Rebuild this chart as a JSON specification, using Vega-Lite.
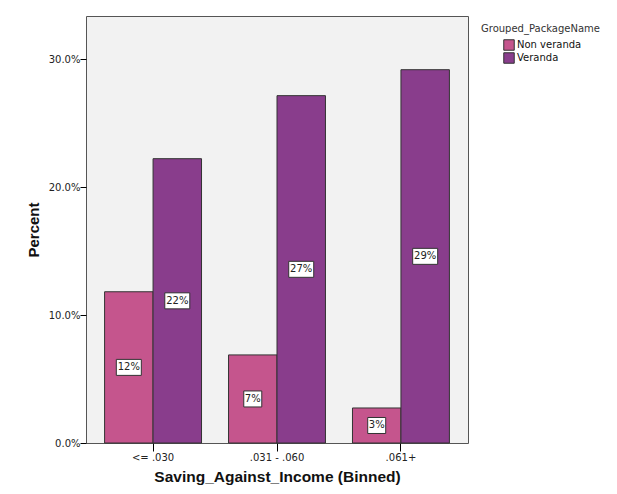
{
  "$schema": "https://vega.github.io/schema/vega-lite/v6.json",
  "width": 382,
  "height": 427,
  "autosize": "none",
  "padding": {"left": 86, "top": 16, "right": 149, "bottom": 51},
  "background": "white",
  "data": {
    "values": [
      {"bin": "<= .030", "group": "Non veranda", "pct": 11.83},
      {"bin": "<= .030", "group": "Veranda", "pct": 22.24},
      {"bin": ".031 - .060", "group": "Non veranda", "pct": 6.89},
      {"bin": ".031 - .060", "group": "Veranda", "pct": 27.17},
      {"bin": ".061+", "group": "Non veranda", "pct": 2.74},
      {"bin": ".061+", "group": "Veranda", "pct": 29.2}
    ]
  },
  "transform": [
    {"calculate": "datum.pct / 2", "as": "mid"},
    {"calculate": "format(datum.pct, '.0f') + '%'", "as": "label"}
  ],
  "encoding": {
    "x": {
      "field": "bin",
      "type": "nominal",
      "sort": ["<= .030", ".031 - .060", ".061+"],
      "scale": {"paddingInner": 0.218, "paddingOuter": 0.15},
      "title": "Saving_Against_Income (Binned)",
      "axis": {
        "domain": false,
        "tickSize": 8,
        "tickColor": "#000",
        "labelAngle": 0,
        "labelPadding": 1,
        "labelFont": "DejaVu Sans",
        "labelFontSize": 10,
        "labelColor": "#222",
        "titleFont": "Liberation Sans",
        "titleFontSize": 15.5,
        "titleFontWeight": "bold",
        "titleColor": "#111",
        "titlePadding": 7
      }
    },
    "xOffset": {
      "field": "group",
      "type": "nominal",
      "sort": ["Non veranda", "Veranda"],
      "scale": {"paddingInner": 0, "paddingOuter": 0}
    }
  },
  "layer": [
    {
      "mark": {"type": "bar", "stroke": "#333", "strokeWidth": 1},
      "encoding": {
        "y": {
          "field": "pct",
          "type": "quantitative",
          "scale": {"domain": [0, 33.4], "nice": false},
          "title": "Percent",
          "axis": {
            "values": [0, 10, 20, 30],
            "labelExpr": "format(datum.value, '.1f') + '%'",
            "domain": false,
            "grid": false,
            "tickSize": 6,
            "tickColor": "#000",
            "labelPadding": 0,
            "labelFont": "DejaVu Sans",
            "labelFontSize": 10,
            "labelColor": "#222",
            "titleFont": "Liberation Sans",
            "titleFontSize": 15,
            "titleFontWeight": "bold",
            "titleColor": "#111",
            "titlePadding": 7
          }
        },
        "color": {
          "field": "group",
          "type": "nominal",
          "sort": ["Non veranda", "Veranda"],
          "scale": {"range": ["#C5558D", "#893D8C"]},
          "legend": {
            "title": "Grouped_PackageName",
            "orient": "none",
            "legendX": 395,
            "legendY": 8,
            "padding": 0,
            "titleFont": "DejaVu Sans",
            "titleFontSize": 10,
            "titleFontWeight": "normal",
            "titleColor": "#333",
            "titlePadding": 5,
            "symbolType": "square",
            "symbolSize": 110,
            "symbolStrokeColor": "#333",
            "symbolStrokeWidth": 1,
            "symbolOpacity": 1,
            "symbolOffset": 22,
            "labelFont": "DejaVu Sans",
            "labelFontSize": 10,
            "labelColor": "#111",
            "labelOffset": 2,
            "clipHeight": 12,
            "rowPadding": 1
          }
        }
      }
    },
    {
      "mark": {"type": "point", "filled": true, "fill": "white", "stroke": "#333", "strokeWidth": 1, "opacity": 1, "size": 400},
      "encoding": {
        "y": {"field": "mid", "type": "quantitative"},
        "shape": {
          "field": "label",
          "type": "nominal",
          "scale": {
            "domain": ["12%", "22%", "7%", "27%", "3%", "29%"],
            "range": [
              "M-1.25,-0.8H1.25V0.8H-1.25Z",
              "M-1.25,-0.8H1.25V0.8H-1.25Z",
              "M-0.9,-0.8H0.9V0.8H-0.9Z",
              "M-1.25,-0.8H1.25V0.8H-1.25Z",
              "M-0.9,-0.8H0.9V0.8H-0.9Z",
              "M-1.25,-0.8H1.25V0.8H-1.25Z"
            ]
          },
          "legend": null
        }
      }
    },
    {
      "mark": {"type": "text", "font": "DejaVu Sans", "fontSize": 10, "color": "#222", "baseline": "middle", "align": "center"},
      "encoding": {
        "y": {"field": "mid", "type": "quantitative"},
        "text": {"field": "label"}
      }
    }
  ],
  "config": {
    "view": {"fill": "#F2F2F2", "stroke": "#555", "strokeWidth": 1}
  }
}
